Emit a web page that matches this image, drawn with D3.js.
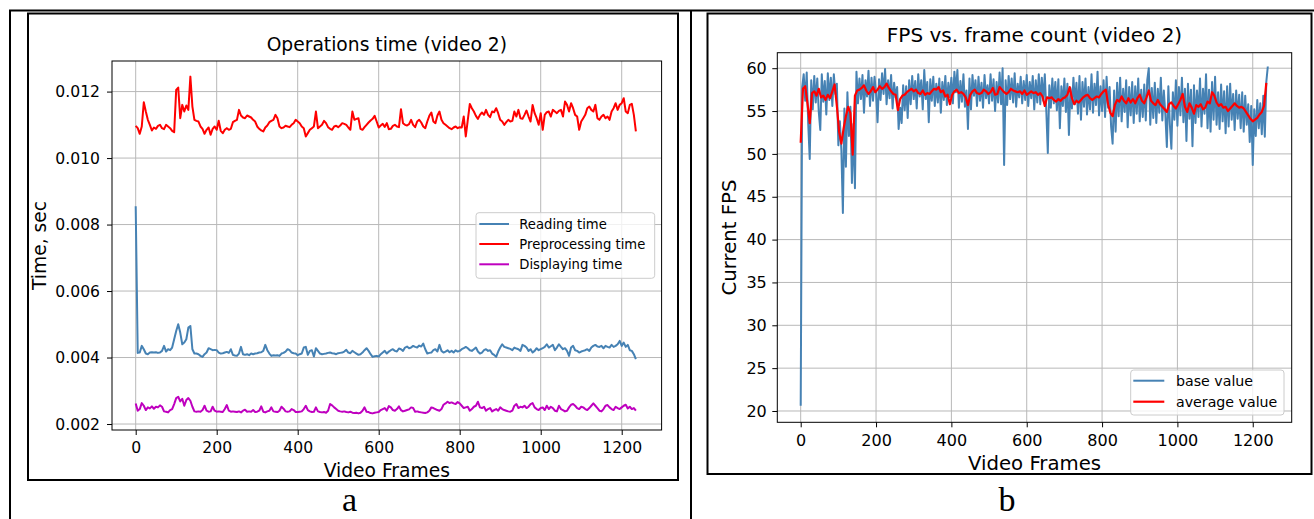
<!DOCTYPE html>
<html>
<head>
<meta charset="utf-8">
<script src="https://cdn.jsdelivr.net/npm/d3@7"></script>
<style>
  html, body { margin: 0; padding: 0; background: #fff; }
  svg { display: block; }
</style>
</head>
<body>
<svg id="fig" width="1314" height="519"></svg>
<script>
// ---------- axis ticks ----------
const frameTicks = [0, 200, 400, 600, 800, 1000, 1200];
const timeTicks = [0.002, 0.004, 0.006, 0.008, 0.010, 0.012];
const fpsTicks = [20, 25, 30, 35, 40, 45, 50, 55, 60];

// ---------- panel a: per-frame operation times (ms), one sample every TIME_STEP frames ----------
const TIME_STEP = 5;
const readingMs = [
  8.55, 4.14, 4.15, 4.35, 4.25, 4.12, 4.10, 4.15, 4.16, 4.15,
  4.16, 4.14, 4.15, 4.20, 4.35, 4.18, 4.25, 4.22, 4.30, 4.55,
  4.80, 5.00, 4.75, 4.40, 4.45, 4.55, 4.90, 4.95, 4.25, 4.12,
  4.12, 4.10, 4.05, 4.02, 4.10, 4.15, 4.28, 4.25, 4.22, 4.23,
  4.22, 4.15, 4.12, 4.13, 4.15, 4.17, 4.14, 4.25, 4.08, 4.06,
  4.05, 4.12, 4.32, 4.10, 4.08, 4.10, 4.07, 4.12, 4.10, 4.12,
  4.13, 4.15, 4.16, 4.20, 4.38, 4.22, 4.12, 4.05, 4.07, 4.06,
  4.07, 4.05, 4.12, 4.14, 4.18, 4.25, 4.22, 4.15, 4.13, 4.12,
  4.07, 4.10, 4.12, 4.30, 4.32, 4.08, 4.20, 4.22, 4.03, 4.28,
  4.20, 4.12, 4.10, 4.11, 4.12, 4.14, 4.15, 4.13, 4.12, 4.10,
  4.13, 4.14, 4.15, 4.18, 4.23, 4.15, 4.13, 4.20, 4.16, 4.12,
  4.08, 4.10, 4.15, 4.22, 4.28, 4.20, 4.10, 4.02, 4.04, 4.05,
  4.03, 4.10, 4.15, 4.20, 4.12, 4.18, 4.22, 4.25, 4.20, 4.18,
  4.27, 4.25, 4.20, 4.30, 4.33, 4.28, 4.30, 4.35, 4.32, 4.30,
  4.36, 4.33, 4.42, 4.25, 4.12, 4.14, 4.15, 4.22, 4.25, 4.18,
  4.38, 4.20, 4.15, 4.18, 4.22, 4.16, 4.20, 4.15, 4.22, 4.18,
  4.20, 4.25, 4.28, 4.32, 4.28, 4.22, 4.20, 4.25, 4.30, 4.18,
  4.12, 4.15, 4.22, 4.25, 4.20, 4.22, 4.12, 4.08, 4.02, 4.18,
  4.30, 4.40, 4.32, 4.30, 4.28, 4.26, 4.22, 4.30, 4.27, 4.25,
  4.20, 4.38, 4.35, 4.30, 4.20, 4.25, 4.15, 4.20, 4.28, 4.22,
  4.25, 4.28, 4.32, 4.40, 4.30, 4.34, 4.38, 4.22, 4.30, 4.40,
  4.32, 4.25, 4.28, 4.20, 4.05, 4.30, 4.35, 4.22, 4.20, 4.15,
  4.18, 4.20, 4.22, 4.25, 4.20, 4.30, 4.35, 4.38, 4.33, 4.32,
  4.35, 4.28, 4.35, 4.32, 4.30, 4.38, 4.32, 4.35, 4.40, 4.50,
  4.35, 4.45, 4.32, 4.38, 4.22, 4.20, 4.10, 3.95
];
const preprocessingMs = [
  10.97, 10.90, 10.73, 10.95, 11.68, 11.40, 11.15, 11.00, 10.83, 10.92,
  10.88, 10.97, 11.00, 10.90, 10.87, 11.00, 10.95, 10.90, 10.82, 10.78,
  12.05, 12.12, 11.20, 11.60, 11.40, 11.58, 11.45, 12.45, 11.55, 11.15,
  11.12, 11.10, 10.95, 10.88, 10.73, 10.85, 10.92, 10.70, 10.88, 10.95,
  10.85, 11.12, 10.82, 10.75, 10.85, 10.90, 10.85, 10.88, 11.08, 11.12,
  11.15, 11.45, 11.28, 11.22, 11.20, 11.28, 11.25, 11.22, 11.15, 11.10,
  10.95, 10.88, 10.83, 10.80, 10.92, 10.98, 11.08, 11.12, 11.15, 11.30,
  11.20, 10.95, 10.90, 10.92, 10.97, 10.95, 10.93, 11.00, 11.05, 11.15,
  11.10, 11.05, 10.95, 10.90, 10.65, 10.75, 10.85, 10.90, 10.95, 11.40,
  10.90, 10.95, 11.00, 11.12, 11.05, 10.93, 10.88, 10.85, 10.95, 10.97,
  10.93, 10.98, 11.05, 11.03, 11.00, 10.92, 10.85, 11.40, 11.15, 11.18,
  11.20, 10.88, 10.85, 10.93, 11.00, 11.07, 11.13, 11.18, 11.27, 11.10,
  10.92, 10.98, 11.03, 10.94, 11.05, 10.87, 10.88, 10.97, 11.00, 10.95,
  10.93, 11.47, 11.05, 11.00, 10.98, 11.02, 11.15, 11.00, 10.93, 11.10,
  11.15, 11.07, 10.95, 10.90, 11.10, 11.27, 11.37, 11.10, 11.05, 11.28,
  11.40, 11.15, 11.05, 11.00, 10.95, 10.90, 10.87, 10.92, 10.95, 10.90,
  10.93, 10.92, 11.25, 10.65, 11.15, 11.63, 11.50, 11.40, 11.27, 11.18,
  11.30, 11.37, 11.30, 11.45, 11.30, 11.23, 11.40, 11.38, 11.50, 11.35,
  11.15, 11.10, 11.00, 11.08, 11.15, 11.10, 11.12, 11.40, 11.25, 11.45,
  11.20, 11.18, 11.30, 11.43, 11.25, 11.10, 11.60, 11.35, 11.20, 11.00,
  11.35, 10.85, 11.30, 11.38, 11.40, 11.25, 11.45, 11.40, 11.35, 11.42,
  11.45, 11.25, 11.70, 11.60, 11.40, 11.65, 11.50, 11.30, 11.25, 10.85,
  11.10, 11.20, 11.30, 11.50, 11.55, 11.45, 11.40, 11.60, 11.20, 11.15,
  11.25, 11.30, 11.20, 11.25, 11.15, 11.40, 11.50, 11.65, 11.45, 11.60,
  11.65, 11.80, 11.40, 11.35, 11.60, 11.63, 11.30, 10.80
];
const displayingMs = [
  2.62, 2.40, 2.45, 2.63, 2.55, 2.42, 2.50, 2.47, 2.53, 2.46,
  2.52, 2.50, 2.56, 2.52, 2.38, 2.37, 2.35, 2.42, 2.45, 2.60,
  2.78, 2.82, 2.68, 2.76, 2.55, 2.72, 2.78, 2.70, 2.52, 2.38,
  2.37, 2.38, 2.37, 2.42, 2.55, 2.40, 2.37, 2.38, 2.52, 2.40,
  2.37, 2.38, 2.37, 2.36, 2.45, 2.57, 2.40, 2.37, 2.38, 2.37,
  2.36, 2.38, 2.35, 2.40, 2.43, 2.37, 2.38, 2.37, 2.42, 2.36,
  2.37, 2.40, 2.53, 2.37, 2.35, 2.38, 2.40, 2.50, 2.38, 2.37,
  2.36, 2.40, 2.52, 2.46, 2.38, 2.37, 2.38, 2.45, 2.42, 2.36,
  2.36, 2.37, 2.38, 2.45, 2.55, 2.42, 2.38, 2.36, 2.37, 2.50,
  2.38, 2.36, 2.35, 2.36, 2.34, 2.40, 2.60, 2.56, 2.50, 2.45,
  2.40, 2.38, 2.37, 2.38, 2.36, 2.35, 2.37, 2.34, 2.33, 2.34,
  2.32, 2.34, 2.40, 2.50, 2.37, 2.36, 2.33, 2.32, 2.34, 2.35,
  2.36, 2.42, 2.45, 2.48, 2.40, 2.54, 2.50, 2.42, 2.40, 2.45,
  2.53, 2.42, 2.38, 2.40, 2.42, 2.44, 2.50, 2.48, 2.37, 2.38,
  2.36, 2.35, 2.34, 2.33, 2.35, 2.40, 2.50, 2.48, 2.45, 2.42,
  2.40, 2.45, 2.58, 2.62, 2.67, 2.63, 2.65, 2.62, 2.60, 2.66,
  2.62, 2.55, 2.48, 2.50, 2.52, 2.40, 2.45, 2.52, 2.55, 2.67,
  2.50, 2.48, 2.52, 2.40, 2.45, 2.48, 2.38, 2.42, 2.45, 2.40,
  2.50, 2.45, 2.42, 2.40, 2.38, 2.37, 2.40, 2.55, 2.60, 2.48,
  2.52, 2.50, 2.55, 2.48, 2.52, 2.60, 2.63, 2.50, 2.45, 2.42,
  2.48, 2.50, 2.42, 2.55, 2.45, 2.52, 2.48, 2.40, 2.38, 2.55,
  2.45, 2.42, 2.38, 2.40, 2.50, 2.58, 2.60, 2.55, 2.48, 2.45,
  2.52, 2.50, 2.45, 2.42, 2.48, 2.55, 2.62, 2.55, 2.48, 2.40,
  2.38, 2.45, 2.55, 2.57, 2.50, 2.45, 2.42, 2.52, 2.48, 2.45,
  2.50, 2.55, 2.58, 2.47, 2.52, 2.45, 2.48, 2.40
];

// ---------- panel b: frame rate ----------
const BASE_STEP = 4;   // frames between raw FPS samples
const fpsBase = [
  20.6, 57.8, 59.3, 56.2, 59.5, 53.5, 49.4, 58.6, 55.2, 59.1,
  56.0, 58.8, 54.9, 52.8, 59.3, 56.1, 58.5, 54.6, 59.4, 56.3,
  58.9, 55.6, 59.3, 57.0, 58.2, 51.0, 53.8, 50.4, 43.1, 55.3,
  48.5, 57.2, 52.1, 55.5, 46.6, 53.5, 46.0, 59.6, 55.9, 58.8,
  56.4, 59.2, 54.8, 58.6, 56.7, 59.7, 55.6, 58.9, 56.2, 59.0,
  57.1, 53.7, 58.7, 56.3, 59.4, 57.0, 59.9, 55.8, 58.6, 56.5,
  59.2, 55.3, 58.3, 56.6, 57.8, 52.9, 55.4, 53.6, 58.0, 55.1,
  57.9, 54.2, 58.6, 55.8, 59.1, 56.4, 58.5, 55.3, 59.3, 56.7,
  58.6, 55.2, 59.8, 56.4, 58.4, 53.7, 58.7, 56.2, 59.0, 55.6,
  58.2, 56.0, 58.8, 54.8, 58.4, 56.3, 59.1, 55.7, 58.3, 56.6,
  58.9, 55.9, 59.6, 57.2, 59.8, 55.4, 58.5, 56.1, 59.3, 55.5,
  57.4, 52.9, 58.8, 55.2, 59.2, 56.8, 58.6, 55.6, 59.0, 56.2,
  58.3, 55.4, 59.2, 56.5, 58.0, 55.9, 59.3, 56.2, 58.7, 55.0,
  58.4, 56.0, 59.5, 55.8, 60.0, 48.7, 58.6, 55.7, 59.1, 56.4,
  58.8, 56.0, 59.4, 55.5, 58.2, 56.6, 59.0, 55.9, 58.5, 56.3,
  59.2, 55.6, 58.4, 56.5, 59.1, 55.2, 58.6, 56.0, 59.3, 55.8,
  58.9, 56.2, 59.3, 55.0, 50.1, 58.0, 55.4, 58.8, 55.9, 58.4,
  55.1, 58.7, 53.0, 57.9, 55.6, 58.8, 54.9, 58.2, 52.2, 57.7,
  55.3, 58.9, 55.8, 58.3, 54.7, 59.1, 54.0, 58.4, 55.5, 58.8,
  54.6, 57.8, 55.2, 59.3, 54.8, 58.2, 55.7, 59.6, 54.5, 57.9,
  55.0, 58.6, 54.3, 59.0, 55.4, 57.8, 53.2, 51.2, 57.4, 52.6,
  58.3, 54.4, 58.9, 53.8, 57.6, 54.9, 58.6, 53.1, 57.8, 54.5,
  58.4, 53.6, 57.9, 54.7, 58.8, 53.8, 57.5, 54.3, 58.1, 53.9,
  58.6, 60.0, 53.4, 57.7, 54.2, 58.3, 53.6, 57.6, 54.8, 58.9,
  53.9, 57.4, 54.6, 50.8, 57.9, 53.4, 50.6, 57.2, 54.0, 58.6,
  53.3, 57.8, 54.5, 58.9, 53.7, 57.6, 51.5, 58.2, 54.1, 57.5,
  50.9, 58.0, 53.6, 57.4, 54.3, 58.8, 53.2, 57.6, 54.7, 59.3,
  53.0, 57.5, 52.6, 58.4, 54.0, 59.0, 53.4, 57.2, 52.9, 58.1,
  53.8, 57.3, 52.4, 57.9, 53.2, 58.2, 54.0, 57.0, 52.8, 57.4,
  54.1, 56.9, 53.0, 57.2, 52.6, 56.8, 53.4, 55.8, 51.4, 55.6,
  48.7, 55.2, 52.1, 56.3, 53.0, 55.9, 52.3, 56.8, 52.0, 58.4,
  60.2
];
const AVG_STEP = 6;    // frames between running-average samples
const fpsAverage = [
  51.3, 57.6, 57.9, 55.9, 53.6, 57.1, 57.3, 56.8, 57.6, 56.6,
  56.8, 56.3, 56.9, 56.5, 57.3, 58.1, 55.6, 52.6, 51.2, 53.0,
  54.4, 55.5, 54.8, 49.9, 56.8, 57.4, 57.5, 57.7, 58.0, 57.4,
  57.0, 57.3, 57.8, 57.2, 57.5, 57.9, 57.6, 57.8, 58.2, 57.7,
  57.3, 57.0, 56.9, 55.1, 56.4, 56.8, 56.9, 57.2, 57.4, 57.6,
  57.3, 57.5, 57.1, 57.0, 57.4, 56.9, 57.1, 57.0, 57.3, 57.6,
  57.5, 57.8, 57.2, 57.4, 56.7, 56.9, 55.8, 56.9, 57.3, 57.5,
  57.1, 57.2, 57.0, 56.6, 55.7, 56.9, 57.3, 57.5, 57.1, 57.0,
  57.1, 57.5, 57.3, 57.0, 57.2, 57.7, 56.9, 57.0, 57.8, 57.5,
  57.2, 57.0, 57.2, 57.6, 57.4, 57.3, 57.2, 57.3, 57.0, 57.4,
  56.9, 57.1, 57.3, 57.1, 57.2, 56.9, 57.1, 56.7, 55.6, 56.6,
  56.5, 56.6, 56.3, 56.1, 56.4, 56.2, 56.5, 56.6, 56.9, 57.8,
  56.5, 55.8, 56.2, 56.0, 56.3, 56.6, 56.8, 56.9, 56.5, 56.3,
  56.5, 56.7, 56.6, 57.0, 57.3, 57.5, 55.8, 54.8, 54.4, 55.7,
  56.3, 56.1, 56.7, 56.2, 55.9, 56.5, 56.0, 56.4, 55.9, 56.5,
  56.9, 56.2, 55.9, 56.6, 57.4, 56.2, 55.9, 55.7, 56.3, 55.8,
  55.5, 55.2, 54.9, 55.8, 56.0, 55.6, 55.3, 55.8, 56.3, 57.0,
  55.5, 54.9, 55.9, 55.4, 54.7, 55.7, 55.5, 55.8, 55.2, 55.4,
  56.1, 55.9, 57.2, 56.8, 56.0, 55.6, 55.8, 55.4, 55.5, 55.0,
  55.3, 55.6, 55.9, 55.6, 55.4, 55.5, 55.3, 54.9, 54.5, 54.1,
  53.8, 54.0, 54.2, 54.6, 54.9, 55.6, 58.3
];

// ---------- drawing ----------
const FONT = "'DejaVu Sans', Verdana, sans-serif";
const SERIF = "'Liberation Serif', 'Times New Roman', serif";
const GRID = "#b8b8b8";
const svg = d3.select("#fig");

// table rules and the two panel boxes
const rules = svg.append("g").attr("stroke", "#000").attr("stroke-width", 2).attr("fill", "none");
rules.append("line").attr("x1", 9).attr("x2", 1314).attr("y1", 10.5).attr("y2", 10.5);
rules.append("line").attr("x1", 10).attr("x2", 10).attr("y1", 10).attr("y2", 519);
rules.append("line").attr("x1", 691).attr("x2", 691).attr("y1", 10).attr("y2", 519);
rules.append("rect").attr("x", 28).attr("y", 13.5).attr("width", 650).attr("height", 466.5);
rules.append("rect").attr("x", 707.5).attr("y", 13.5).attr("width", 604).attr("height", 460.5);

// panel captions
svg.append("text").attr("x", 349.5).attr("y", 511).attr("text-anchor", "middle")
  .attr("font-family", SERIF).attr("font-size", 34).text("a");
svg.append("text").attr("x", 1007).attr("y", 511).attr("text-anchor", "middle")
  .attr("font-family", SERIF).attr("font-size", 34).text("b");

function drawPanel(p) {
  const g = svg.append("g").attr("font-family", FONT);
  const x = d3.scaleLinear().domain(p.xDomain).range([p.left, p.right]);
  const y = d3.scaleLinear().domain(p.yDomain).range([p.bottom, p.top]);

  // grid
  const grid = g.append("g").attr("stroke", GRID).attr("stroke-width", 1);
  grid.selectAll("line.gx").data(frameTicks).join("line").attr("class", "gx")
    .attr("x1", d => x(d)).attr("x2", d => x(d)).attr("y1", p.top).attr("y2", p.bottom);
  grid.selectAll("line.gy").data(p.yTicks).join("line").attr("class", "gy")
    .attr("x1", p.left).attr("x2", p.right).attr("y1", d => y(d)).attr("y2", d => y(d));

  // series
  g.append("clipPath").attr("id", "clip-" + p.id).append("rect")
    .attr("x", p.left).attr("y", p.top).attr("width", p.right - p.left).attr("height", p.bottom - p.top);
  const plot = g.append("g").attr("clip-path", `url(#clip-${p.id})`);
  p.series.forEach(s => {
    const line = d3.line().x((d, i) => x(i * s.step)).y(d => y(s.unit(d)));
    plot.append("path").datum(s.values)
      .attr("fill", "none").attr("stroke", s.color).attr("stroke-width", s.width)
      .attr("stroke-linejoin", "round").attr("d", line);
  });

  // axes
  const xa = g.append("g").attr("transform", `translate(0,${p.bottom})`)
    .call(d3.axisBottom(x).tickValues(frameTicks).tickFormat(d3.format("d")).tickSize(5).tickPadding(p.xTickPad));
  const ya = g.append("g").attr("transform", `translate(${p.left},0)`)
    .call(d3.axisLeft(y).tickValues(p.yTicks).tickFormat(p.yFormat).tickSize(5).tickPadding(p.yTickPad));
  [xa, ya].forEach(a => {
    a.select(".domain").remove();
    a.selectAll(".tick line").attr("stroke", "#000").attr("stroke-width", 1);
    a.selectAll(".tick text").attr("fill", "#000").attr("font-size", p.tickFont).attr("font-family", FONT);
  });

  // spines
  g.append("rect").attr("x", p.left).attr("y", p.top)
    .attr("width", p.right - p.left).attr("height", p.bottom - p.top)
    .attr("fill", "none").attr("stroke", "#000").attr("stroke-width", 1);

  // title and axis labels
  const cx = (p.left + p.right) / 2, cy = (p.top + p.bottom) / 2;
  g.append("text").attr("x", cx).attr("y", p.titleY).attr("text-anchor", "middle")
    .attr("font-size", p.titleFont).attr("fill", "#000").text(p.title);
  g.append("text").attr("x", cx).attr("y", p.xLabelY).attr("text-anchor", "middle")
    .attr("font-size", p.labelFont).attr("fill", "#000").text(p.xLabel);
  g.append("text").attr("transform", `translate(${p.yLabelX},${cy}) rotate(-90)`)
    .attr("text-anchor", "middle").attr("font-size", p.labelFont).attr("fill", "#000").text(p.yLabel);

  // legend
  const L = p.legend;
  const lg = g.append("g");
  lg.append("rect").attr("x", L.x).attr("y", L.y).attr("width", L.w).attr("height", L.h)
    .attr("rx", 3).attr("fill", "#fff").attr("fill-opacity", 0.8)
    .attr("stroke", "#cccccc").attr("stroke-width", 1);
  p.series.forEach((s, i) => {
    const ry = L.rows[i];
    lg.append("line").attr("x1", L.lineX[0]).attr("x2", L.lineX[1]).attr("y1", ry).attr("y2", ry)
      .attr("stroke", s.color).attr("stroke-width", s.width);
    lg.append("text").attr("x", L.textX).attr("y", ry + L.font * 0.36)
      .attr("font-size", L.font).attr("fill", "#000").text(s.name);
  });
}

const ms = v => v / 1000;
const asIs = v => v;

drawPanel({
  id: "a",
  left: 112, right: 661.6, top: 61, bottom: 430,
  xDomain: [-58.5, 1298.5], yDomain: [0.00182, 0.01292],
  yTicks: timeTicks, yFormat: d3.format(".3f"),
  tickFont: 15.6, labelFont: 18.7, titleFont: 18.7,
  xTickPad: 7, yTickPad: 7,
  title: "Operations time (video 2)", titleY: 50.5,
  xLabel: "Video Frames", xLabelY: 477,
  yLabel: "Time, sec", yLabelX: 45.5,
  series: [
    { name: "Reading time", values: readingMs, step: TIME_STEP, unit: ms, color: "#4682b4", width: 2 },
    { name: "Preprocessing time", values: preprocessingMs, step: TIME_STEP, unit: ms, color: "#ff0000", width: 2 },
    { name: "Displaying time", values: displayingMs, step: TIME_STEP, unit: ms, color: "#bf00bf", width: 2 }
  ],
  legend: { x: 476, y: 212.7, w: 178.7, h: 65.6, font: 13.2, rows: [224, 244, 264.3], lineX: [479.3, 509], textX: 519.3 }
});

drawPanel({
  id: "b",
  left: 777.3, right: 1291.7, top: 52.7, bottom: 422.3,
  xDomain: [-62.1, 1303.4], yDomain: [18.68, 61.81],
  yTicks: fpsTicks, yFormat: d3.format("d"),
  tickFont: 16, labelFont: 19.7, titleFont: 20,
  xTickPad: 7, yTickPad: 5.5,
  title: "FPS vs. frame count (video 2)", titleY: 42,
  xLabel: "Video Frames", xLabelY: 470,
  yLabel: "Current FPS", yLabelX: 736,
  series: [
    { name: "base value", values: fpsBase, step: BASE_STEP, unit: asIs, color: "#4682b4", width: 2 },
    { name: "average value", values: fpsAverage, step: AVG_STEP, unit: asIs, color: "#ff0000", width: 2.2 }
  ],
  legend: { x: 1130.7, y: 370, w: 153.3, h: 45, font: 14.2, rows: [380.7, 401.7], lineX: [1133.3, 1164.3], textX: 1176 }
});
</script>
</body>
</html>
